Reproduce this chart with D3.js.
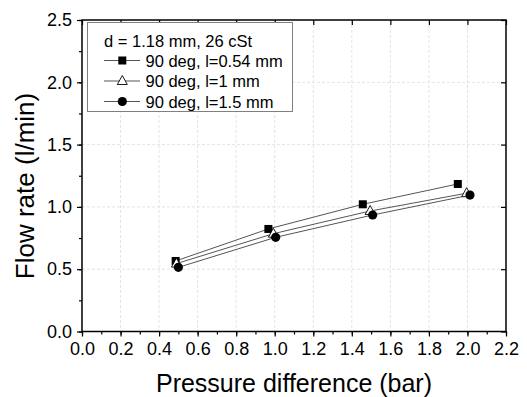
<!DOCTYPE html>
<html><head><meta charset="utf-8">
<script src="https://cdn.jsdelivr.net/npm/d3@7"></script>
<style>body{margin:0;background:#fff}svg{display:block}text{font-family:"Liberation Sans",Arial,sans-serif;fill:#000}</style>
</head><body><svg id="c" width="527" height="397"></svg>
<script>
const seriesNames = ["90 deg, l=0.54 mm", "90 deg, l=1 mm", "90 deg, l=1.5 mm"];
const seriesSymbols = ["square", "triangle", "circle"];
const xSquare = [0.486, 0.967, 1.457, 1.95];
const ySquare = [0.566, 0.823, 1.021, 1.184];
const xTriangle = [0.49, 0.993, 1.495, 1.996];
const yTriangle = [0.545, 0.785, 0.967, 1.11];
const xCircle = [0.50, 1.005, 1.508, 2.013];
const yCircle = [0.515, 0.756, 0.935, 1.095];
const xTicks = [0,0.2,0.4,0.6,0.8,1.0,1.2,1.4,1.6,1.8,2.0,2.2];
const yTicks = [0,0.5,1.0,1.5,2.0,2.5];
const legendTitle = "d = 1.18 mm, 26 cSt";
const xTitle = "Pressure difference (bar)";
const yTitle = "Flow rate (l/min)";

const svg = d3.select("#c");
const L=82, R=506, T=20, B=331.5;
const x = d3.scaleLinear().domain([0,2.2]).range([L,R]);
const y = d3.scaleLinear().domain([0,2.5]).range([B,T]);

// grid
const g = svg.append("g");
g.selectAll(".gx").data(xTicks.slice(1,-1)).enter().append("line")
 .attr("x1",d=>x(d)).attr("x2",d=>x(d)).attr("y1",T).attr("y2",B)
 .attr("stroke","#e4e4e4").attr("stroke-dasharray","3,2").attr("stroke-width",1);
g.selectAll(".gy").data(yTicks.slice(1,-1)).enter().append("line")
 .attr("y1",d=>y(d)).attr("y2",d=>y(d)).attr("x1",L).attr("x2",R)
 .attr("stroke","#e4e4e4").attr("stroke-dasharray","3,2").attr("stroke-width",1);

// axes
const xMinor = d3.range(0,23).map(i=>i/10);
const yMinor = d3.range(0,11).map(i=>i/4);
const bx = svg.append("g").attr("transform",`translate(0,${B})`)
 .call(d3.axisBottom(x).tickValues(xMinor).tickSize(3).tickFormat(""));
bx.select(".domain").remove();
const bx2 = svg.append("g").attr("transform",`translate(0,${B})`)
 .call(d3.axisBottom(x).tickValues(xTicks).tickSize(5).tickPadding(6).tickFormat(d3.format(".1f")));
bx2.select(".domain").remove();
bx2.selectAll("text").attr("font-size","18px");
const ly = svg.append("g").attr("transform",`translate(${L},0)`)
 .call(d3.axisLeft(y).tickValues(yMinor).tickSize(3).tickFormat(""));
ly.select(".domain").remove();
const ly2 = svg.append("g").attr("transform",`translate(${L},0)`)
 .call(d3.axisLeft(y).tickValues(yTicks).tickSize(5).tickPadding(5).tickFormat(d3.format(".1f")));
ly2.select(".domain").remove();
ly2.selectAll("text").attr("font-size","18px");
const tx = svg.append("g").attr("transform",`translate(0,${T})`)
 .call(d3.axisTop(x).tickValues(xTicks).tickSize(-5).tickFormat(""));
tx.select(".domain").remove();
const ry = svg.append("g").attr("transform",`translate(${R},0)`)
 .call(d3.axisRight(y).tickValues(yTicks).tickSize(-5).tickFormat(""));
ry.select(".domain").remove();
svg.selectAll(".tick line").attr("stroke","#000").attr("stroke-width",1.2);
svg.append("rect").attr("x",L).attr("y",T).attr("width",R-L).attr("height",B-T)
 .attr("fill","none").attr("stroke","#000").attr("stroke-width",1.5);

// titles
svg.append("text").attr("x",(L+R)/2).attr("y",392).attr("text-anchor","middle")
 .attr("font-size","25px").text(xTitle);
svg.append("text").attr("transform",`translate(33.5,186) rotate(-90)`).attr("text-anchor","middle")
 .attr("font-size","26px").text(yTitle);

// data
const data = [
 {name:seriesNames[0], sym:seriesSymbols[0], xs:xSquare, ys:ySquare},
 {name:seriesNames[1], sym:seriesSymbols[1], xs:xTriangle, ys:yTriangle},
 {name:seriesNames[2], sym:seriesSymbols[2], xs:xCircle, ys:yCircle}
];
const line = d3.line().x(d=>x(d[0])).y(d=>y(d[1]));
function marker(sel, sym, cx, cy){
  if(sym==="square") sel.append("rect").attr("x",cx-4).attr("y",cy-4).attr("width",8).attr("height",8).attr("fill","#000");
  else if(sym==="triangle") sel.append("path").attr("d",`M${cx},${cy-5.5}L${cx+5},${cy+3.5}L${cx-5},${cy+3.5}Z`).attr("fill","#fff").attr("stroke","#000").attr("stroke-width",0.9);
  else sel.append("circle").attr("cx",cx).attr("cy",cy).attr("r",4.6).attr("fill","#000");
}
data.forEach(s=>{
  const pts = s.xs.map((v,i)=>[v,s.ys[i]]);
  svg.append("path").attr("d",line(pts)).attr("fill","none").attr("stroke","#555").attr("stroke-width",1);
});
data.forEach(s=>{
  const gg = svg.append("g");
  s.xs.forEach((v,i)=>marker(gg,s.sym,x(v),y(s.ys[i])));
});

// legend
const lg = svg.append("g");
lg.append("rect").attr("x",87.5).attr("y",22.5).attr("width",205).attr("height",89)
 .attr("fill","#fff").attr("stroke","#808080").attr("stroke-width",1);
lg.append("text").attr("x",104).attr("y",46.5).attr("font-size","16.5px").text(legendTitle);
data.forEach((s,i)=>{
  const yy = 60.5 + i*20.5;
  lg.append("line").attr("x1",104).attr("x2",140).attr("y1",yy).attr("y2",yy).attr("stroke","#555").attr("stroke-width",1);
  marker(lg,s.sym,122.3,yy);
  lg.append("text").attr("x",145.5).attr("y",yy+6).attr("font-size","16.5px").text(s.name);
});
</script></body></html>
